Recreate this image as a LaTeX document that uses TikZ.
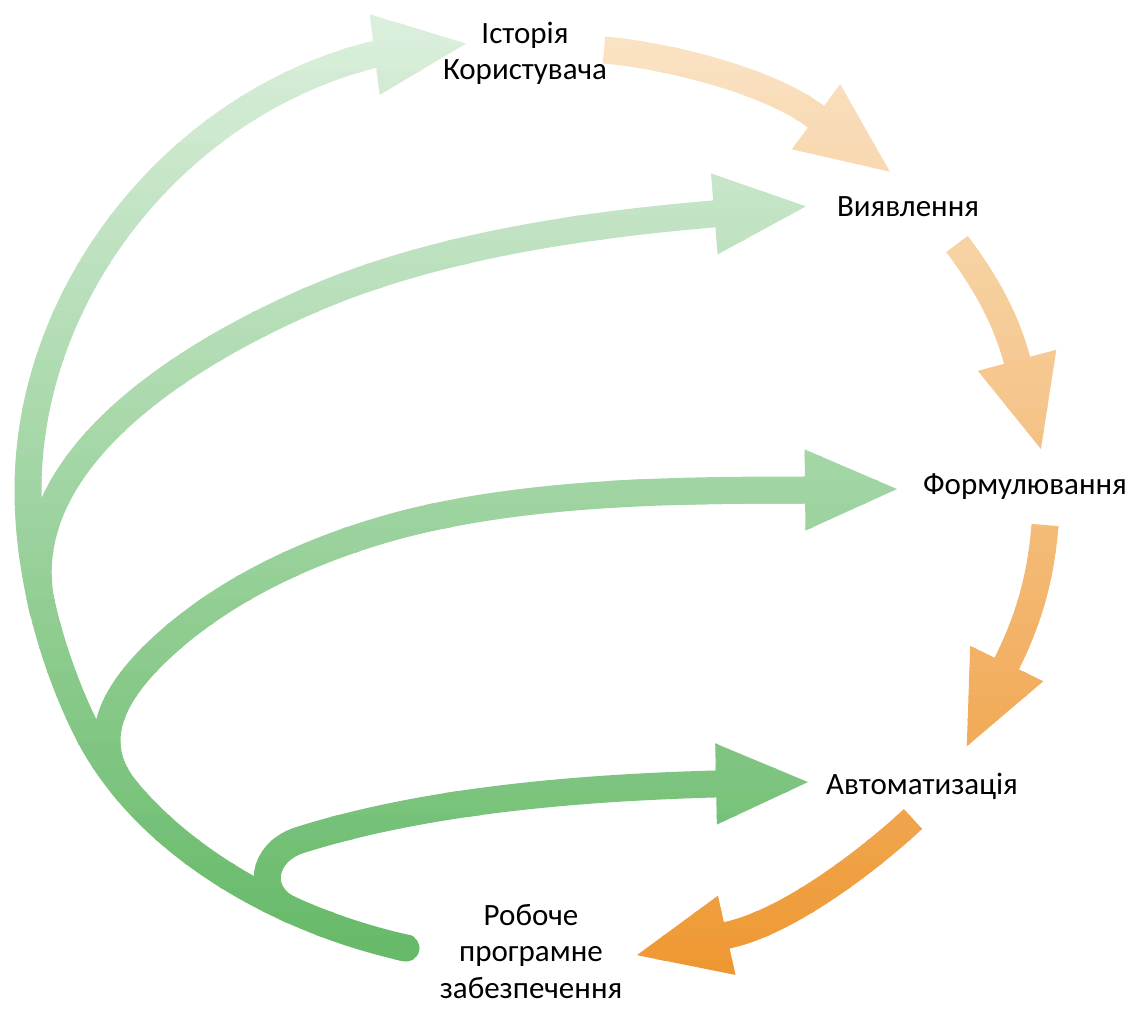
\documentclass[tikz,border=0pt]{standalone}
\usepackage{fontspec}
\setmainfont{Carlito}
\usetikzlibrary{arrows.meta}
\definecolor{gtop}{RGB}{222,240,224}
\definecolor{gbot}{RGB}{95,183,98}
\definecolor{otop}{RGB}{250,230,202}
\definecolor{obot}{RGB}{238,149,46}
\begin{document}
\begin{tikzpicture}[x=1pt,y=-1pt,
  garrow/.style={line width=27pt, line cap=round, line join=round, -{Triangle[length=96pt,width=73pt]}},
  oarrow/.style={line width=27pt, line cap=butt, line join=round, -{Triangle[length=96pt,width=73pt]}},
  stagetext/.style={inner sep=0pt, font=\fontsize{31}{36.5}\selectfont, align=center, text=black}]
\useasboundingbox (0,0) rectangle (1139,1008);
\fill[white] (0,0) rectangle (1139,1008);
% stage labels (base = baseline of the last line)
\node[stagetext, anchor=base] (hist)  at (525,80)  {Історія\\Користувача};
\node[stagetext, anchor=base] (viyav) at (908,217) {Виявлення};
\node[stagetext, anchor=base] (form)  at (1025,494) {Формулювання};
\node[stagetext, anchor=base] (avto)  at (922,794) {Автоматизація};
\node[stagetext, anchor=base] (rob)   at (531,998) {Робоче\\програмне\\забезпечення};
% connector ends
\coordinate (gtail) at (406,948);
\coordinate (g2s) at (43,611);
\coordinate (g3s) at (128,792);
\coordinate (g4s) at (291,910);
\coordinate (g1t) at (470,43);
\coordinate (g2t) at (810,206);
\coordinate (g3t) at (901,489);
\coordinate (g4t) at (812,782);
\coordinate (o1s) at (604,50);   \coordinate (o1t) at (893,174);
\coordinate (o2s) at (957,244);  \coordinate (o2t) at (1042,453);
\coordinate (o3s) at (1045,525); \coordinate (o3t) at (965,750);
\coordinate (o4s) at (913,819);  \coordinate (o4t) at (633,956);
% arrows, coloured with a vertical gradient (bands)
\foreach \i in {0,...,41}{
  \pgfmathsetmacro{\ya}{24*\i-0.7}
  \pgfmathsetmacro{\yb}{24*\i+24.7}
  \pgfmathsetmacro{\p}{(24*\i+12)/10.08}
  \colorlet{gband}{gbot!\p!gtop}
  \colorlet{oband}{obot!\p!otop}
  \begin{scope}
    \clip (-5,\ya) rectangle (1145,\yb);
    % green: from the working software to every stage
    \draw[garrow, draw=gband] (gtail)
      .. controls (279,920) and (142,844) .. (85,727)
      .. controls (50,655) and (28,570) .. (28,490)
      .. controls (28,290) and (178,104) .. (372,55) -- (g1t);
    \draw[garrow, draw=gband] (g2s)
      .. controls (7,465) and (182,354) .. (320,296)
      .. controls (440,246) and (583,225) .. (713,214) -- (g2t);
    \draw[garrow, draw=gband] (g3s)
      .. controls (82.5,739) and (117.5,686) .. (170,640)
      .. controls (234,584) and (318,547) .. (400,525)
      .. controls (526,492) and (673,490) .. (803,490) -- (g3t);
    \draw[garrow, draw=gband] (g4s)
      .. controls (254.5,893.6) and (262,852) .. (300,840)
      .. controls (424,801) and (574,788) .. (714,784) -- (g4t);
    % orange: stage to stage
    \draw[oarrow, draw=oband] (o1s)
      .. controls (664,55) and (767,80) .. (815,116) -- (o1t);
    \draw[oarrow, draw=oband] (o2s)
      .. controls (984,280) and (1005,316) .. (1017,360) -- (o2t);
    \draw[oarrow, draw=oband] (o3s)
      .. controls (1041,575) and (1030,616) .. (1008,661) -- (o3t);
    \draw[oarrow, draw=oband] (o4s)
      .. controls (869,860) and (788,922) .. (728,935) -- (o4t);
  \end{scope}
}
\end{tikzpicture}
\end{document}
